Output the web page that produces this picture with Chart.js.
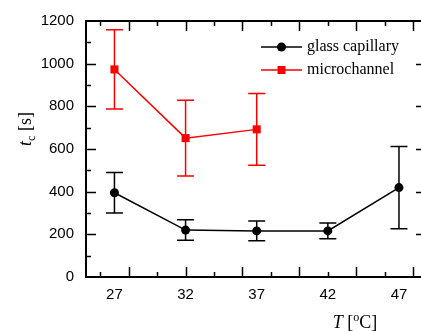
<!DOCTYPE html>
<html>
<head>
<meta charset="utf-8">
<script src="https://cdn.jsdelivr.net/npm/chart.js@4.4.1/dist/chart.umd.min.js"></script>
<style>
  html, body { margin: 0; padding: 0; background: #fff; overflow: hidden; }
  #wrap { width: 421px; height: 331px; position: relative; overflow: hidden; }
  #c { position: absolute; left: 0; top: 0; }
</style>
</head>
<body>
<div id="wrap"><canvas id="c" width="432" height="331"></canvas></div>
<script>
// ---- data ----
const temperatures = [27, 32, 37, 42, 47];           // T [°C]
const glassCapillary = [395, 220, 216, 216, 419];     // t_c [s]
const glassCapillaryErr = [95, 48, 46, 37, 193];
const microTemps = [27, 32, 37];
const microchannel = [973, 651, 692];
const microchannelErr = [186, 178, 168];
const xTickLabels = [27, 32, 37, 42, 47];
const yTickLabels = [0, 200, 400, 600, 800, 1000, 1200];
const seriesNames = ['glass capillary', 'microchannel'];

const BLACK = '#000000';
const RED = '#ff0000';

const toPoints = (xs, ys) => xs.map((x, i) => ({ x: x, y: ys[i] }));

const errorBars = {
  id: 'errorBars',
  beforeDatasetsDraw(chart) {
    const ctx = chart.ctx;
    const xs = chart.scales.x, ys = chart.scales.y;
    const sets = [
      { t: temperatures, v: glassCapillary, e: glassCapillaryErr, c: BLACK },
      { t: microTemps, v: microchannel, e: microchannelErr, c: RED }
    ];
    ctx.save();
    ctx.lineWidth = 1.5;
    sets.forEach(s => {
      ctx.strokeStyle = s.c;
      s.t.forEach((t, i) => {
        const px = xs.getPixelForValue(t);
        const top = ys.getPixelForValue(s.v[i] + s.e[i]);
        const bot = ys.getPixelForValue(s.v[i] - s.e[i]);
        ctx.beginPath();
        ctx.moveTo(px, top); ctx.lineTo(px, bot);
        ctx.moveTo(px - 8.5, top); ctx.lineTo(px + 8.5, top);
        ctx.moveTo(px - 8.5, bot); ctx.lineTo(px + 8.5, bot);
        ctx.stroke();
      });
    });
    ctx.restore();
  }
};

const frameAndTicks = {
  id: 'frameAndTicks',
  afterDraw(chart) {
    const ctx = chart.ctx;
    const a = chart.chartArea;
    const xs = chart.scales.x, ys = chart.scales.y;
    ctx.save();
    ctx.strokeStyle = BLACK;
    ctx.lineWidth = 2;
    ctx.strokeRect(a.left, a.top, a.right - a.left, a.bottom - a.top);
    ctx.lineWidth = 1.5;
    ctx.beginPath();
    // x ticks every 2 degrees, major every 4
    for (let t = 26; t <= 48; t += 2) {
      const px = Math.round(xs.getPixelForValue(t)) + 0.5;
      const len = (t % 4 === 0) ? 10 : 5;
      ctx.moveTo(px, a.bottom); ctx.lineTo(px, a.bottom - len);
      ctx.moveTo(px, a.top); ctx.lineTo(px, a.top + len);
    }
    // y ticks every 100, major every 200
    for (let v = 100; v < 1200; v += 100) {
      const py = Math.round(ys.getPixelForValue(v)) + 0.5;
      const len = (v % 200 === 0) ? 10 : 5;
      ctx.moveTo(a.left, py); ctx.lineTo(a.left + len, py);
      ctx.moveTo(a.right, py); ctx.lineTo(a.right - len, py);
    }
    ctx.stroke();

    // legend
    const items = [
      { name: seriesNames[0], c: BLACK, shape: 'circle', y: 47 },
      { name: seriesNames[1], c: RED, shape: 'rect', y: 70 }
    ];
    items.forEach(it => {
      ctx.strokeStyle = it.c; ctx.fillStyle = it.c; ctx.lineWidth = 1.5;
      ctx.beginPath(); ctx.moveTo(261, it.y); ctx.lineTo(302, it.y); ctx.stroke();
      ctx.beginPath();
      if (it.shape === 'circle') { ctx.arc(281.5, it.y, 4.5, 0, Math.PI * 2); ctx.fill(); }
      else { ctx.fillRect(277.5, it.y - 4, 8, 8); }
      ctx.fillStyle = BLACK;
      ctx.font = '16px "Liberation Serif"';
      ctx.textBaseline = 'middle';
      ctx.textAlign = 'left';
      ctx.fillText(it.name, 307, it.y);
    });

    // x title: T [°C]
    ctx.fillStyle = BLACK;
    ctx.textBaseline = 'alphabetic';
    const xParts = [
      { s: 'T', f: 'italic 18px "Liberation Serif"', dy: 0 },
      { s: ' [', f: '18px "Liberation Serif"', dy: 0 },
      { s: 'o', f: '12px "Liberation Serif"', dy: -7 },
      { s: 'C]', f: '18px "Liberation Serif"', dy: 0 }
    ];
    let w = 0;
    xParts.forEach(p => { ctx.font = p.f; w += ctx.measureText(p.s).width; });
    let x0 = 355 - w / 2;
    xParts.forEach(p => { ctx.font = p.f; ctx.fillText(p.s, x0, 328 + p.dy); x0 += ctx.measureText(p.s).width; });

    // y title: t_c [s]
    ctx.translate(31, 129);
    ctx.rotate(-Math.PI / 2);
    const yParts = [
      { s: 't', f: 'italic 18px "Liberation Serif"', dy: 0 },
      { s: 'c', f: '12px "Liberation Serif"', dy: 4 },
      { s: ' [s]', f: '18px "Liberation Serif"', dy: 0 }
    ];
    w = 0;
    yParts.forEach(p => { ctx.font = p.f; w += ctx.measureText(p.s).width; });
    x0 = -w / 2;
    yParts.forEach(p => { ctx.font = p.f; ctx.fillText(p.s, x0, p.dy); x0 += ctx.measureText(p.s).width; });
    ctx.restore();
  }
};

new Chart(document.getElementById('c'), {
  type: 'line',
  data: {
    datasets: [
      {
        label: seriesNames[0],
        data: toPoints(temperatures, glassCapillary),
        borderColor: BLACK, backgroundColor: BLACK,
        borderWidth: 1.5, pointStyle: 'circle', pointRadius: 4.5,
        pointBorderWidth: 0, tension: 0
      },
      {
        label: seriesNames[1],
        data: toPoints(microTemps, microchannel),
        borderColor: RED, backgroundColor: RED,
        borderWidth: 1.5, pointStyle: 'rect', pointRadius: 5.7,
        pointBorderWidth: 0, tension: 0
      }
    ]
  },
  options: {
    responsive: false,
    animation: false,
    devicePixelRatio: 1,
    layout: { padding: { left: 0, top: 21, right: 6, bottom: 0 } },
    plugins: { legend: { display: false }, tooltip: { enabled: false } },
    scales: {
      x: {
        type: 'linear', min: 25, max: 48.9,
        grid: { display: false, drawTicks: false },
        border: { display: false },
        afterBuildTicks: (s) => { s.ticks = xTickLabels.map(v => ({ value: v })); },
        afterFit: (s) => { s.height = 54; },
        ticks: {
          color: BLACK, padding: 9, maxRotation: 0, autoSkip: false,
          font: { family: '"Liberation Sans", Arial', size: 15 },
          callback: (v) => String(v)
        }
      },
      y: {
        min: 0, max: 1200,
        grid: { display: false, drawTicks: false },
        border: { display: false },
        afterBuildTicks: (s) => { s.ticks = yTickLabels.map(v => ({ value: v })); },
        afterFit: (s) => { s.width = 86; },
        ticks: {
          color: BLACK, padding: 12,
          font: { family: '"Liberation Sans", Arial', size: 15 },
          callback: (v) => String(v)
        }
      }
    }
  },
  plugins: [errorBars, frameAndTicks]
});
</script>
</body>
</html>
